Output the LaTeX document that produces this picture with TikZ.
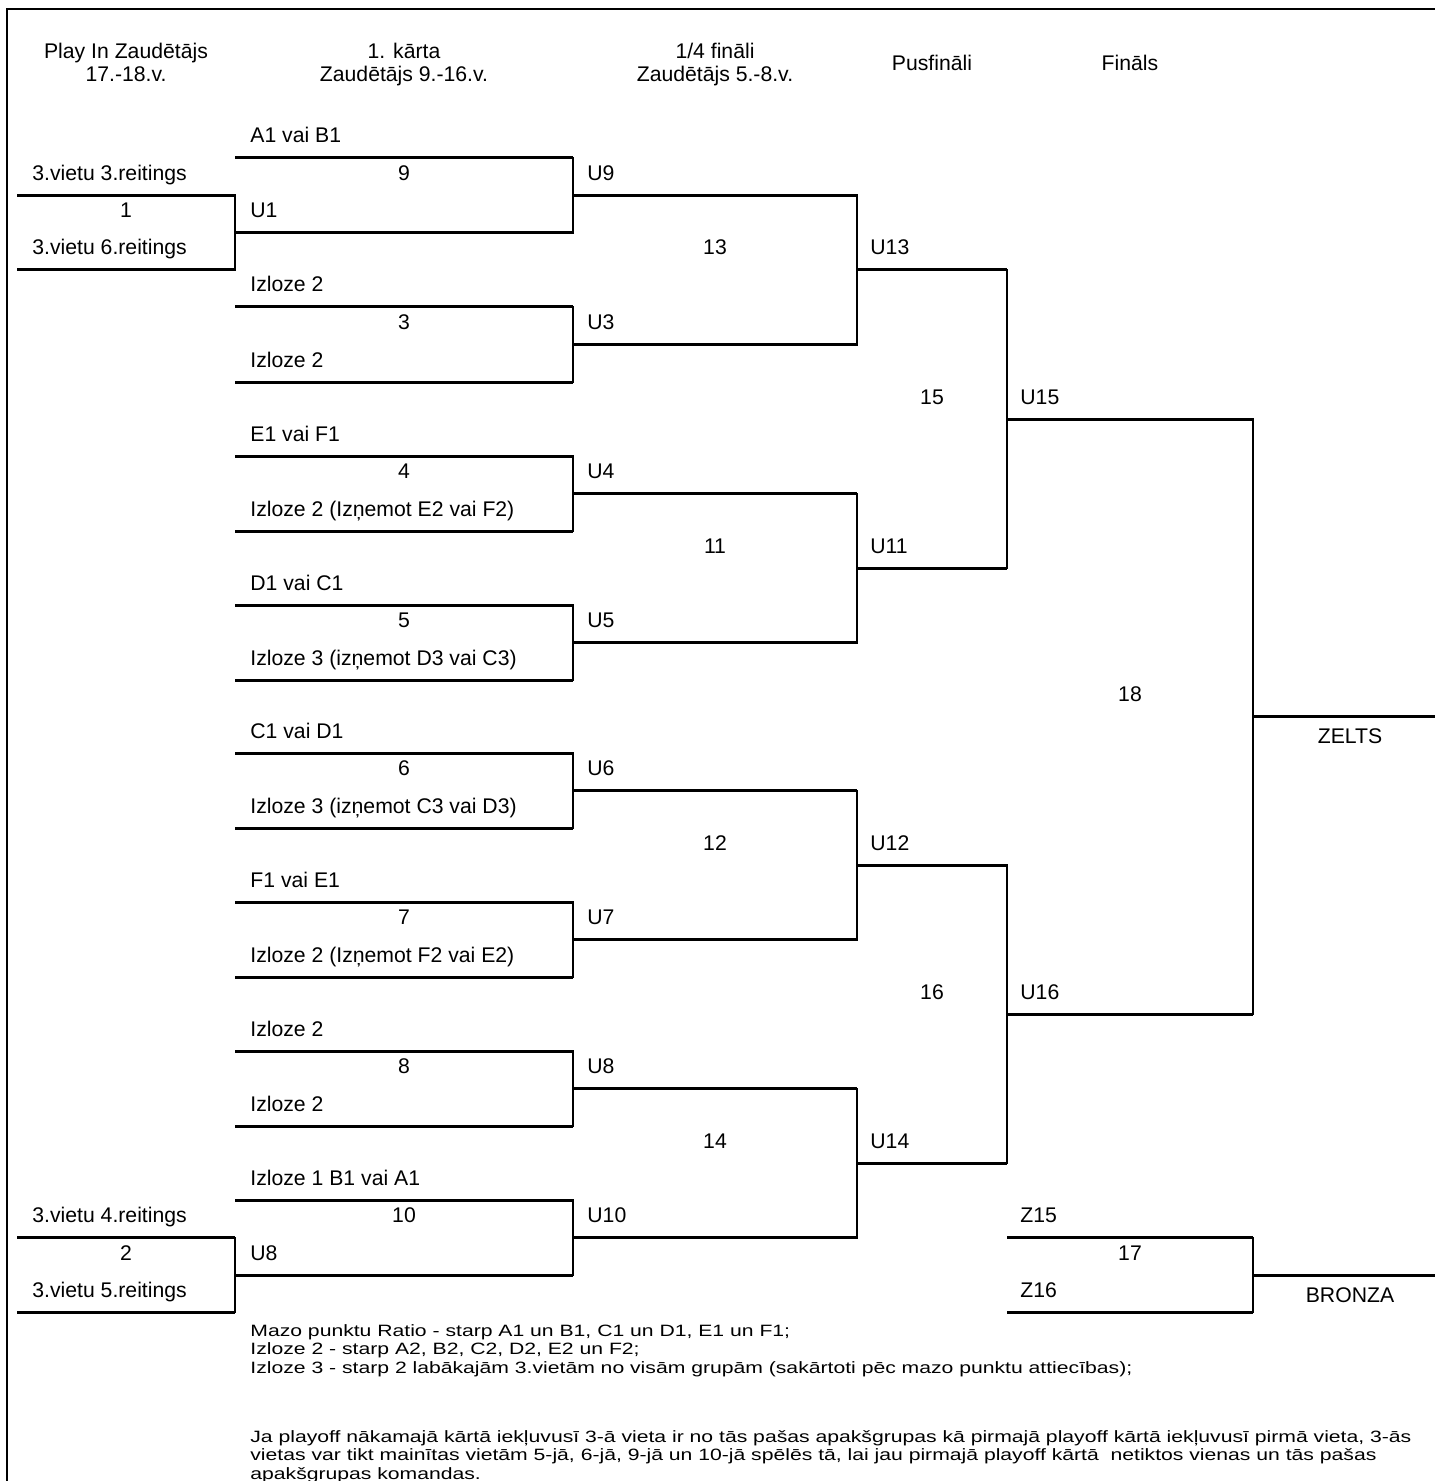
\documentclass[tikz,border=0pt]{standalone}
\usepackage{fontspec}
\setmainfont{Liberation Sans}
\newfontfamily\notefont[FakeStretch=1.29]{Liberation Sans}

\begin{document}
\begin{tikzpicture}[x=0.5pt,y=-0.5pt,font=\fontsize{10.6}{12}\selectfont,
    hline/.style={line width=1.5pt},
    vline/.style={line width=1pt,line cap=rect},
    frame/.style={line width=1.4pt},
    lbl/.style={anchor=base west,inner sep=0pt},
    num/.style={anchor=base,inner sep=0pt},
    note/.style={lbl,font=\notefont\fontsize{8.2}{10}\selectfont}]
            \useasboundingbox (0,0) rectangle (1434,1481);
            \draw[frame] (7,1495)--(7,9)--(1445,9);
            % headers
            \node[num] (hPlayA) at (126,59) {Play In Zaudētājs};
            \node[num] (hPlayB) at (126,82) {17.-18.v.};
            \node[num] (hKartaA) at (404,59) {1. kārta};
            \node[num] (hKartaB) at (404,82) {Zaudētājs 9.-16.v.};
            \node[num] (hCetrA) at (715,59) {1/4 fināli};
            \node[num] (hCetrB) at (715,82) {Zaudētājs 5.-8.v.};
            \node[num] (hPus) at (932,71) {Pusfināli};
            \node[num] (hFin) at (1130,71) {Fināls};
            % brackets
            \draw[hline] (17,195.5)--(235,195.5) (17,270)--(235,270)
                (17,1237.5)--(235,1237.5) (17,1312)--(235,1312);
            \draw[hline] (235,158)--(573,158) (235,233)--(573,233)
                (235,307)--(573,307) (235,382)--(573,382)
                (235,456)--(573,456) (235,531)--(573,531)
                (235,605)--(573,605) (235,680)--(573,680)
                (235,753)--(573,753) (235,828)--(573,828)
                (235,902)--(573,902) (235,977)--(573,977)
                (235,1051)--(573,1051) (235,1126)--(573,1126)
                (235,1200)--(573,1200) (235,1275)--(573,1275);
            \draw[hline] (573,195.5)--(857,195.5) (573,344.5)--(857,344.5)
                (573,493.5)--(857,493.5) (573,642.5)--(857,642.5)
                (573,790.5)--(857,790.5) (573,939.5)--(857,939.5)
                (573,1088.5)--(857,1088.5) (573,1237.5)--(857,1237.5);
            \draw[hline] (857,270)--(1007,270) (857,568)--(1007,568)
                (857,865)--(1007,865) (857,1163)--(1007,1163);
            \draw[hline] (1007,419)--(1253,419) (1007,1014)--(1253,1014)
                (1007,1237.5)--(1253,1237.5) (1007,1312)--(1253,1312);
            \draw[hline] (1253,716.5)--(1445,716.5) (1253,1275)--(1445,1275);
            \draw[vline] (235,195.5)--(235,270) (235,1237.5)--(235,1312);
            \draw[vline] (573,158)--(573,233) (573,307)--(573,382)
                (573,456)--(573,531) (573,605)--(573,680)
                (573,753)--(573,828) (573,902)--(573,977)
                (573,1051)--(573,1126) (573,1200)--(573,1275);
            \draw[vline] (857,195.5)--(857,344.5) (857,493.5)--(857,642.5)
                (857,790.5)--(857,939.5) (857,1088.5)--(857,1237.5);
            \draw[vline] (1007,270)--(1007,568) (1007,865)--(1007,1163);
            \draw[vline] (1253,419)--(1253,1014) (1253,1237.5)--(1253,1312);
            % play in
            \node[lbl] (p1a) at (32,180.5) {3.vietu 3.reitings};
            \node[num] (p1n) at (126,218) {1};
            \node[lbl] (p1b) at (32,255) {3.vietu 6.reitings};
            \node[lbl] (p2a) at (32,1222.5) {3.vietu 4.reitings};
            \node[num] (p2n) at (126,1260) {2};
            \node[lbl] (p2b) at (32,1297) {3.vietu 5.reitings};
            % 1. karta
            \node[lbl] (m9a) at (250,143) {A1 vai B1};
            \node[num] (m9n) at (404,180.5) {9};
            \node[lbl] (m9b) at (250,218) {U1};
            \node[lbl] (m3a) at (250,292) {Izloze 2};
            \node[num] (m3n) at (404,329.5) {3};
            \node[lbl] (m3b) at (250,367) {Izloze 2};
            \node[lbl] (m4a) at (250,441) {E1 vai F1};
            \node[num] (m4n) at (404,478.5) {4};
            \node[lbl] (m4b) at (250,516) {Izloze 2 (Izņemot E2 vai F2)};
            \node[lbl] (m5a) at (250,590) {D1 vai C1};
            \node[num] (m5n) at (404,627.5) {5};
            \node[lbl] (m5b) at (250,665) {Izloze 3 (izņemot D3 vai C3)};
            \node[lbl] (m6a) at (250,738) {C1 vai D1};
            \node[num] (m6n) at (404,775.5) {6};
            \node[lbl] (m6b) at (250,813) {Izloze 3 (izņemot C3 vai D3)};
            \node[lbl] (m7a) at (250,887) {F1 vai E1};
            \node[num] (m7n) at (404,924.5) {7};
            \node[lbl] (m7b) at (250,962) {Izloze 2 (Izņemot F2 vai E2)};
            \node[lbl] (m8a) at (250,1036) {Izloze 2};
            \node[num] (m8n) at (404,1073.5) {8};
            \node[lbl] (m8b) at (250,1111) {Izloze 2};
            \node[lbl] (m10a) at (250,1185) {Izloze 1 B1 vai A1};
            \node[num] (m10n) at (404,1222.5) {10};
            \node[lbl] (m10b) at (250,1260) {U8};
            % 1/4 finali
            \node[lbl] (u9) at (587,180.5) {U9};
            \node[lbl] (u3) at (587,329.5) {U3};
            \node[lbl] (u4) at (587,478.5) {U4};
            \node[lbl] (u5) at (587,627.5) {U5};
            \node[lbl] (u6) at (587,775.5) {U6};
            \node[lbl] (u7) at (587,924.5) {U7};
            \node[lbl] (u8) at (587,1073.5) {U8};
            \node[lbl] (u10) at (587,1222.5) {U10};
            \node[num] (m13n) at (715,255) {13};
            \node[num] (m11n) at (715,553) {11};
            \node[num] (m12n) at (715,850) {12};
            \node[num] (m14n) at (715,1148) {14};
            % pusfinali
            \node[lbl] (u13) at (870,255) {U13};
            \node[lbl] (u11) at (870,553) {U11};
            \node[lbl] (u12) at (870,850) {U12};
            \node[lbl] (u14) at (870,1148) {U14};
            \node[num] (m15n) at (932,404) {15};
            \node[num] (m16n) at (932,999) {16};
            % finals
            \node[lbl] (u15) at (1020,404) {U15};
            \node[lbl] (u16) at (1020,999) {U16};
            \node[num] (m18n) at (1130,701.5) {18};
            \node[num] (zelts) at (1350,743) {ZELTS};
            \node[lbl] (z15) at (1020,1222.5) {Z15};
            \node[num] (m17n) at (1130,1260) {17};
            \node[lbl] (z16) at (1020,1297) {Z16};
            \node[num] (bronza) at (1350,1302) {BRONZA};
            % piezimes
            \node[note] (noteA) at (250,1336) {Mazo punktu Ratio - starp A1 un B1, C1 un D1, E1 un F1;};
            \node[note] (noteB) at (250,1354.5) {Izloze 2 - starp A2, B2, C2, D2, E2 un F2;};
            \node[note] (noteC) at (250,1373) {Izloze 3 - starp 2 labākajām 3.vietām no visām grupām (sakārtoti pēc mazo punktu attiecības);};
            \node[note] (noteD) at (250,1442) {Ja playoff nākamajā kārtā iekļuvusī 3-ā vieta ir no tās pašas apakšgrupas kā pirmajā playoff kārtā iekļuvusī pirmā vieta, 3-ās};
            \node[note] (noteE) at (250,1460.5) {vietas var tikt mainītas vietām 5-jā, 6-jā, 9-jā un 10-jā spēlēs tā, lai jau pirmajā playoff kārtā~ netiktos vienas un tās pašas};
            \node[note] (noteF) at (250,1479) {apakšgrupas komandas.};
        \end{tikzpicture}
\end{document}
